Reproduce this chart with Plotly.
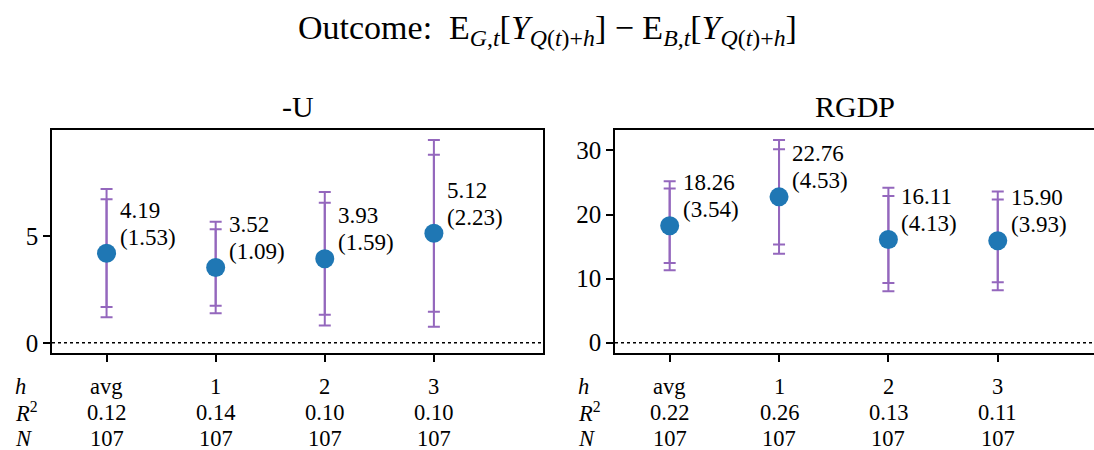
import plotly.graph_objects as go

# ---------------- data ----------------
h_labels = ["avg", "1", "2", "3"]
xpos = [0, 1, 2, 3]

u_est = [4.19, 3.52, 3.93, 5.12]
u_se = [1.53, 1.09, 1.59, 2.23]
u_ci95_lo = [1.19, 1.38, 0.81, 0.75]
u_ci95_hi = [7.19, 5.66, 7.05, 9.49]
u_ci90_lo = [1.67, 1.73, 1.31, 1.45]
u_ci90_hi = [6.71, 5.31, 6.55, 8.79]
u_r2 = [0.12, 0.14, 0.10, 0.10]
u_n = [107, 107, 107, 107]

g_est = [18.26, 22.76, 16.11, 15.90]
g_se = [3.54, 4.53, 4.13, 3.93]
g_ci95_lo = [11.32, 13.88, 8.02, 8.20]
g_ci95_hi = [25.20, 31.64, 24.20, 23.60]
g_ci90_lo = [12.44, 15.31, 9.32, 9.44]
g_ci90_hi = [24.08, 30.21, 22.90, 22.36]
g_r2 = [0.22, 0.26, 0.13, 0.11]
g_n = [107, 107, 107, 107]

panels = [
    dict(name="-U", est=u_est, se=u_se, lo95=u_ci95_lo, hi95=u_ci95_hi,
         lo90=u_ci90_lo, hi90=u_ci90_hi, r2=u_r2, n=u_n),
    dict(name="RGDP", est=g_est, se=g_se, lo95=g_ci95_lo, hi95=g_ci95_hi,
         lo90=g_ci90_lo, hi90=g_ci90_hi, r2=g_r2, n=g_n),
]

# ---------------- style ----------------
FONT = "Liberation Serif"
PURPLE = "#9467bd"
BLUE = "#1f77b4"
W, H = 1094, 450

dom_y = [1 - 356 / H, 1 - 131 / H]
dom_x = [[52 / W, 543 / W], [615 / W, 1.0]]
label_x = [13 / W, 576 / W]

fig = go.Figure()
annotations = []
shapes = []

for k, p in enumerate(panels):
    xa = "x" if k == 0 else "x2"
    ya = "y" if k == 0 else "y2"
    for lo, hi in [(p["lo95"], p["hi95"]), (p["lo90"], p["hi90"])]:
        fig.add_trace(go.Scatter(
            x=xpos, y=p["est"], mode="markers", xaxis=xa, yaxis=ya,
            marker=dict(size=1, color="rgba(0,0,0,0)"),
            error_y=dict(type="data", symmetric=False,
                         array=[h - e for h, e in zip(hi, p["est"])],
                         arrayminus=[e - l for e, l in zip(p["est"], lo)],
                         color=PURPLE, thickness=2, width=6),
            showlegend=False, hoverinfo="skip"))
    fig.add_trace(go.Scatter(
        x=xpos, y=p["est"], mode="markers", xaxis=xa, yaxis=ya,
        marker=dict(size=19, color=BLUE), showlegend=False))

    for i, (e, s) in enumerate(zip(p["est"], p["se"])):
        for txt, dy in [(f"{e:.2f}", 43), (f"({s:.2f})", 16)]:
            annotations.append(dict(
                x=xpos[i], y=e, xref=xa, yref=ya, xshift=11, yshift=dy,
                text=txt, showarrow=False,
                xanchor="left", yanchor="middle", align="left",
                font=dict(family=FONT, size=23, color="black")))

    shapes.append(dict(type="line", xref=f"{xa} domain", yref=ya,
                       x0=0, x1=1, y0=0, y1=0,
                       line=dict(color="black", width=1.5, dash="dot")))

    rows = [("<i>h</i>", h_labels, 1 - 390 / H),
            ("<i>R</i><sup>2</sup>", [f"{v:.2f}" for v in p["r2"]], 1 - 416 / H),
            ("<i>N</i>", [str(v) for v in p["n"]], 1 - 442 / H)]
    for lab, vals, yy in rows:
        annotations.append(dict(x=label_x[k], y=yy, xref="paper", yref="paper",
                                text=lab, showarrow=False, xanchor="left",
                                yanchor="middle",
                                font=dict(family=FONT, size=22.5, color="black")))
        for i, v in enumerate(vals):
            annotations.append(dict(x=xpos[i], y=yy, xref=xa, yref="paper",
                                    text=v, showarrow=False, xanchor="center",
                                    yanchor="middle",
                                    font=dict(family=FONT, size=22.5, color="black")))

    annotations.append(dict(x=(dom_x[k][0] + dom_x[k][1]) / 2, y=1 - 107 / H,
                            xref="paper", yref="paper", text=p["name"],
                            showarrow=False, xanchor="center", yanchor="middle",
                            font=dict(family=FONT, size=30, color="black")))

annotations.append(dict(
    x=0.5, y=1 - 30 / H, xref="paper", yref="paper",
    text=("Outcome:  E<sub><i>G</i>,<i>t</i></sub>[<i>Y</i><sub><i>Q</i>(<i>t</i>)+<i>h</i></sub>]"
          " − E<sub><i>B</i>,<i>t</i></sub>[<i>Y</i><sub><i>Q</i>(<i>t</i>)+<i>h</i></sub>]"),
    showarrow=False, xanchor="center", yanchor="middle",
    font=dict(family=FONT, size=34, color="black")))

axis_common = dict(showline=True, linecolor="black", linewidth=1.5,
                   ticks="outside", ticklen=7, tickwidth=1.5, tickcolor="black",
                   showgrid=False, zeroline=False,
                   tickfont=dict(family=FONT, size=25, color="black"))

fig.update_layout(
    width=W, height=H, margin=dict(l=0, r=0, t=0, b=0),
    paper_bgcolor="white", plot_bgcolor="white",
    xaxis=dict(domain=dom_x[0], range=[-0.5, 4.0], tickvals=xpos,
               showticklabels=False, mirror=True, anchor="y", **axis_common),
    yaxis=dict(domain=dom_y, range=[-0.47, 9.96], tickvals=[0, 5],
               mirror=True, anchor="x", **axis_common),
    xaxis2=dict(domain=dom_x[1], range=[-0.5, 3.88], tickvals=xpos,
                showticklabels=False, mirror=True, anchor="y2", **axis_common),
    yaxis2=dict(domain=dom_y, range=[-1.58, 33.22], tickvals=[0, 10, 20, 30],
                mirror=False, anchor="x2", **axis_common),
    annotations=annotations, shapes=shapes,
)

fig.write_html("out.html", config={"displayModeBar": False},
               post_script="document.body.style.margin='0';document.body.style.overflow='hidden';")
